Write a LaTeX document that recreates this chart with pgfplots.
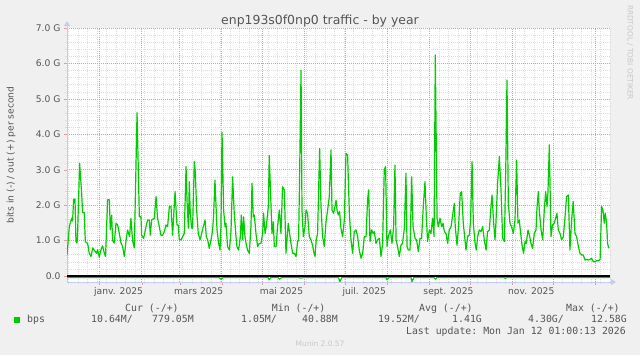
\documentclass[border=0pt]{standalone}
\usepackage{pgfplots}
\pgfplotsset{compat=1.18}
\usepackage{fontspec}
\setmainfont{DejaVu Sans}
\setmonofont{DejaVu Sans Mono}
\usetikzlibrary{arrows.meta}
\definecolor{bgc}{HTML}{F0F0F0}
\definecolor{txt}{HTML}{555555}
\definecolor{faint}{HTML}{C8C8C8}
\definecolor{mgreen}{HTML}{00CC00}
\definecolor{mgrid}{HTML}{E49A9A}
\definecolor{mingrid}{HTML}{DDDDDD}
\definecolor{axisblue}{HTML}{C4CCF4}

\pgfplotstableread{
d v
0.0 0.59
1.7 1.39
3.4 1.63
4.1 1.55
4.9 2.17
5.9 2.17
6.6 0.97
7.4 0.93
7.8 1.21
9.3 3.18
10.8 2.33
11.5 1.79
12.7 1.79
13.5 0.97
15.2 0.92
16.4 0.64
17.7 0.55
18.9 0.79
20.6 0.70
21.8 0.64
22.5 0.74
23.8 0.53
25.0 0.74
26.2 0.85
27.5 0.64
28.4 0.55
29.9 2.15
31.2 2.15
31.9 1.30
32.9 1.72
33.6 1.00
34.8 0.93
36.1 1.49
37.3 1.44
38.5 1.21
39.8 0.93
41.0 0.83
42.2 0.55
43.5 1.00
44.6 1.30
46.1 1.11
47.1 1.63
48.3 1.00
49.6 0.79
51.6 4.61
53.3 1.67
54.5 1.67
55.0 1.15
56.4 1.06
57.5 1.25
58.2 1.39
59.4 1.58
60.6 1.58
61.4 1.15
62.3 1.58
64.3 1.63
65.6 2.24
66.7 1.63
68.0 1.39
69.2 1.15
70.4 1.15
71.7 1.25
72.9 1.44
74.1 1.39
75.4 1.96
76.6 1.96
77.8 1.15
79.6 2.38
81.0 1.44
82.0 1.44
82.7 1.02
84.0 1.02
85.2 1.11
86.4 1.20
87.7 3.09
88.4 2.14
89.4 1.35
90.1 2.66
90.8 1.77
91.8 1.35
92.5 1.35
93.8 3.23
94.5 2.94
95.5 1.86
96.7 1.20
98.0 1.02
99.2 1.20
100.4 1.39
101.7 1.58
102.6 1.11
103.6 1.02
104.8 0.78
106.1 1.02
107.3 1.30
108.0 1.72
109.0 2.71
110.5 1.30
111.7 0.92
112.7 0.73
113.4 1.39
114.2 4.05
115.4 1.86
116.4 1.39
117.1 1.49
118.3 0.83
119.6 0.73
120.8 1.25
122.0 2.80
123.2 1.77
124.5 1.11
125.2 0.83
126.4 0.73
127.7 1.11
128.4 1.72
129.4 1.02
130.1 1.67
131.1 1.11
131.9 0.92
133.0 0.73
134.3 0.64
135.5 1.39
136.3 2.62
137.2 1.67
138.0 1.72
139.2 1.20
140.4 0.83
141.7 0.92
142.9 0.92
144.1 1.20
144.8 1.77
145.9 1.20
146.8 1.39
148.3 1.96
149.0 3.40
150.3 1.96
151.0 1.20
152.0 1.53
152.7 0.83
154.0 0.83
155.1 1.39
156.4 1.86
157.6 1.20
158.8 2.52
160.1 2.43
161.3 0.64
162.1 1.06
163.0 1.49
164.0 1.20
165.0 0.92
166.2 0.64
167.4 0.64
168.7 0.55
169.9 0.97
170.6 1.02
171.3 2.71
172.4 5.81
173.1 1.86
174.1 1.11
175.3 1.39
176.1 1.86
177.2 1.77
178.5 1.11
179.7 1.02
180.9 0.87
181.7 0.69
182.7 0.55
183.6 1.02
184.6 1.20
185.3 2.33
186.1 3.60
187.1 1.96
188.3 1.11
189.5 0.83
190.8 1.53
192.0 1.86
193.2 2.24
194.5 3.56
195.2 1.86
196.4 1.77
197.4 1.96
198.2 2.14
198.9 1.86
199.9 1.72
200.8 1.82
201.8 1.35
203.0 1.11
204.3 1.58
205.5 3.46
206.7 3.41
208.0 1.77
209.2 1.02
210.4 0.64
211.6 1.25
212.9 1.30
214.1 1.11
215.3 0.73
216.6 0.50
217.8 0.64
219.0 1.11
220.3 1.11
221.4 2.14
222.2 2.43
223.2 0.97
224.4 1.30
225.6 1.20
226.4 1.25
227.6 0.92
228.8 1.02
230.1 1.06
231.3 0.55
232.5 0.92
233.7 2.99
234.7 3.09
235.7 0.83
236.7 1.11
238.2 1.30
239.4 0.92
240.6 1.39
241.6 3.13
242.4 1.02
243.5 0.83
244.8 0.55
246.0 0.87
247.2 0.92
248.5 1.35
249.7 2.90
250.5 0.83
251.4 0.73
252.7 0.73
253.9 2.80
254.9 1.39
256.4 1.06
257.5 1.02
258.8 0.69
260.0 1.06
261.2 1.06
262.5 2.00
263.7 2.66
264.7 1.67
265.6 0.97
266.9 1.30
268.1 1.20
269.3 1.63
270.4 1.11
271.3 6.24
272.6 1.63
273.5 1.39
274.8 1.63
276.0 1.39
277.0 1.49
278.0 1.25
279.2 1.20
280.4 0.92
281.6 1.30
282.9 1.39
284.1 1.72
285.3 2.05
286.0 1.39
287.3 0.87
288.5 1.44
289.7 2.33
290.7 2.38
291.9 1.49
292.7 1.20
293.9 0.73
295.1 1.11
296.4 1.16
297.3 1.58
298.4 3.23
299.3 1.49
300.6 0.92
301.5 0.73
302.5 1.11
303.7 1.30
305.0 1.25
306.2 1.39
307.4 1.02
308.7 0.73
309.8 1.25
311.1 1.30
312.4 2.00
313.1 2.29
314.3 1.49
315.3 1.02
316.0 1.53
317.2 2.62
318.5 3.37
319.7 2.43
320.9 1.06
322.2 0.97
323.4 3.46
324.1 5.53
325.1 2.05
326.3 1.49
327.5 1.39
328.8 1.20
330.0 1.58
331.2 3.27
332.2 1.49
333.2 1.58
333.9 1.30
335.2 0.87
336.3 0.64
337.4 0.97
338.3 0.92
339.6 1.30
340.6 1.16
341.8 0.92
343.0 0.78
344.2 1.20
345.5 1.30
346.2 1.91
347.2 2.38
347.9 1.86
349.2 1.30
350.4 1.02
351.6 1.86
352.6 2.38
353.6 1.96
354.3 2.38
355.3 3.70
356.5 1.11
357.7 1.44
358.9 1.49
360.2 1.67
360.9 1.77
361.9 1.30
363.2 1.20
364.3 1.02
365.6 1.11
366.8 1.63
368.0 2.24
369.3 2.29
370.5 0.73
371.7 1.58
372.9 2.10
374.2 1.20
375.4 1.11
376.7 0.83
377.9 0.64
379.1 0.59
380.3 0.59
381.6 0.45
382.8 0.47
384.0 0.45
385.3 0.47
386.4 0.50
387.7 0.40
388.9 0.40
390.1 0.43
391.4 0.43
392.7 0.47
393.8 1.96
394.8 1.86
395.8 1.49
396.5 1.77
397.5 1.49
398.2 0.92
399.1 0.78
}\outdata

\pgfplotstableread{
d v
0 -0.04
10 -0.045
20 -0.04
30 -0.045
40 -0.04
50 -0.045
60 -0.04
70 -0.045
80 -0.04
90 -0.045
100 -0.04
112 -0.045
113.5 -0.09
115 -0.045
130 -0.04
145 -0.045
148 -0.04
149 -0.11
150 -0.045
155.5 -0.04
156.5 -0.09
158 -0.045
170 -0.04
172 -0.06
175 -0.04
190 -0.045
200 -0.04
201 -0.16
202.5 -0.045
215 -0.04
220 -0.045
235 -0.04
235.7 -0.11
237 -0.045
245 -0.04
253.5 -0.045
254.2 -0.16
255.5 -0.045
265 -0.04
270.5 -0.045
271.5 -0.09
272.5 -0.045
285 -0.04
300 -0.045
322 -0.04
323 -0.07
324 -0.04
340 -0.045
360 -0.04
380 -0.045
390 -0.04
400 -0.045
}\indata

\begin{document}
\begin{tikzpicture}[x=1bp,y=1bp]
\useasboundingbox (0,0) rectangle (640,355);
\fill[bgc] (0,0) rectangle (640,355);
\node[anchor=base, inner sep=0, text=txt, font=\fontsize{12.5}{15}\selectfont] at (320,331) {enp193s0f0np0 traffic - by year};
\node[rotate=90, inner sep=0, text=txt, font=\fontsize{9.2}{11}\selectfont] at (11,200) {bits in (-) / out (+) per second};
\node[rotate=-90, inner sep=0, text=faint, font=\fontsize{7.4}{9}\selectfont] at (630,302.5) {RRDTOOL / TOBI OETIKER};

\begin{axis}[
  at={(67bp,73bp)}, anchor=south west,
  scale only axis, width=543bp, height=254bp,
  xmin=0, xmax=400, ymin=-0.17, ymax=7,
  axis x line=bottom, axis y line=left,
  axis line style={draw=axisblue, line width=0.9bp},
  x axis line style={-{Triangle[length=5bp,width=6bp]}, shorten >=-6bp},
  y axis line style={-{Triangle[length=5bp,width=6bp]}, shorten >=-7bp},
  axis background/.style={fill=white},
  xtick={24,55,83,114,144,175,205,236,267,297,328,358,389},
  xticklabels={},
  minor xtick={1,8,...,400},
  extra x ticks={38,97,158,219,281,342},
  extra x tick labels={janv. 2025,mars 2025,mai 2025,juil. 2025,sept. 2025,nov. 2025},
  extra x tick style={grid=none, major tick length=0pt},
  xticklabel style={yshift=-2.5bp},
  ytick={0,1,2,3,4,5,6,7},
  yticklabels={0.0\hspace{5.5bp},1.0 G,2.0 G,3.0 G,4.0 G,5.0 G,6.0 G,7.0 G},
  minor y tick num=4,
  grid=both,
  major grid style={draw=mgrid, dash pattern=on 1bp off 1bp, line width=0.7bp},
  minor grid style={draw=mingrid, dash pattern=on 1bp off 1bp, line width=0.5bp},
  tick align=outside,
  major tick length=3bp, minor tick length=2bp,
  major tick style={draw=mgrid, solid},
  minor tick style={draw=mingrid, solid},
  tick label style={text=txt, font=\fontsize{9.2}{11}\selectfont},
]
\addplot[mgreen, line width=1.2bp, line join=round] table[x=d,y=v] {\indata};
\addplot[black, line width=1.1bp] coordinates {(0,0) (400,0)};
\addplot[mgreen, line width=1.2bp, line join=round] table[x=d,y=v] {\outdata};
\end{axis}

\begin{scope}[every node/.style={inner sep=0, text=txt, font=\ttfamily\fontsize{9.9}{12}\selectfont}]
\node[anchor=base west] at (125,44) {Cur (-/+)};
\node[anchor=base west] at (271.7,44) {Min (-/+)};
\node[anchor=base west] at (419,44) {Avg (-/+)};
\node[anchor=base west] at (566,44) {Max (-/+)};
\fill[mgreen] (14,32.3) rectangle (20,38.3);
\node[anchor=base west] at (27,32.7) {bps};
\node[anchor=base west] at (91,32.7) {10.64M/};
\node[anchor=base west] at (152,32.7) {779.05M};
\node[anchor=base west] at (241,32.7) {1.05M/};
\node[anchor=base west] at (302,32.7) {40.88M};
\node[anchor=base west] at (378,32.7) {19.52M/};
\node[anchor=base west] at (452,32.7) {1.41G};
\node[anchor=base west] at (528,32.7) {4.30G/};
\node[anchor=base west] at (591,32.7) {12.58G};
\node[anchor=base east] at (626,20.7) {Last update: Mon Jan 12 01:00:13 2026};
\end{scope}
\node[anchor=base, inner sep=0, text=faint, font=\fontsize{7.5}{9}\selectfont] at (320,8.3) {Munin 2.0.57};
\end{tikzpicture}
\end{document}
